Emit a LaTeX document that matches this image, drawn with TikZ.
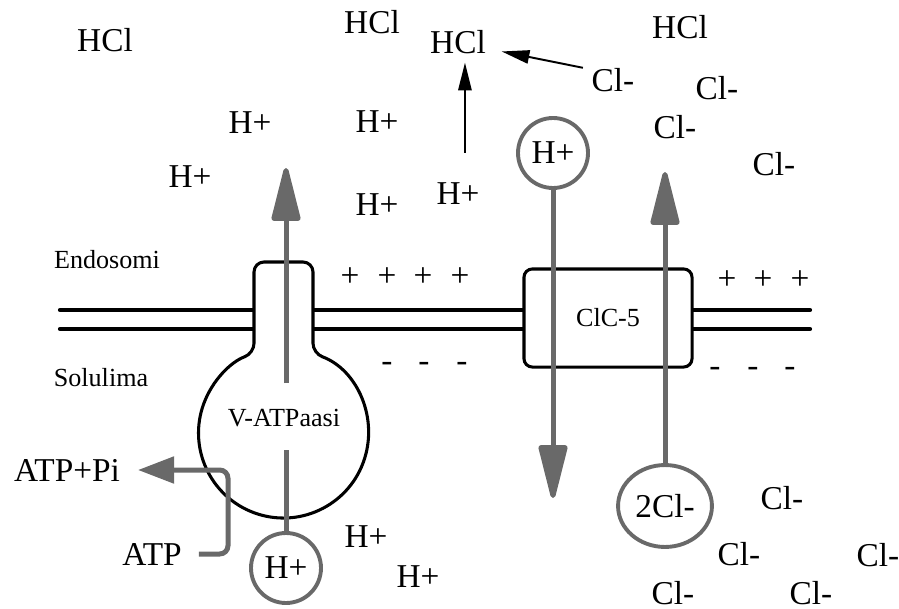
\documentclass[tikz,border=0pt]{standalone}
\usepackage{fontspec}
\setmainfont{Liberation Serif}
\usetikzlibrary{arrows.meta, shapes.geometric}
\definecolor{arrowgray}{RGB}{105,105,105}

\begin{document}
\begin{tikzpicture}[x=0.36pt, y=-0.36pt,
  ion/.style={font=\fontsize{12}{14}\selectfont, inner sep=1pt},
  lab/.style={font=\fontsize{9.4}{11}\selectfont, inner sep=1pt},
  membrane/.style={line width=1.5pt, line cap=round},
  protein/.style={draw, line width=1.1pt, fill=white},
  carrier/.style={draw=arrowgray, line width=1.4pt, fill=white},
  pump/.style={draw=arrowgray, line width=1.8pt, -{Triangle[length=22pt, width=10.5pt, round]}},
  stub/.style={draw=arrowgray, line width=1.8pt},
  reaction/.style={line width=0.7pt, -{Triangle[length=10pt, width=4.8pt]}}]
\useasboundingbox (0,0) rectangle (899,609);

% membrane
\draw[membrane] (60,310) -- (810,310);
\draw[membrane] (60,329) -- (810,329);

% V-ATPase
\draw[protein, rounded corners=3.6pt] (313,353.3)
  arc[start angle=69.7, end angle=-249.7, radius=30.6pt] -- (254,262) -- (313,262) -- cycle;
\node[lab] (vatp) at (284,418) {V-ATPaasi};

% ClC-5
\node[protein, lab, rounded corners=3pt, minimum width=60.5pt, minimum height=35.3pt] (clc) at (608,318) {ClC-5};

\node[lab] (endo) at (107,260) {Endosomi};
\node[lab] (solu) at (101,378) {Solulima};

% charges
\foreach \x in {350,387,423,460} \node[ion] (pa\x) at (\x,277) {+};
\foreach \x in {727,763,800} \node[ion] (pb\x) at (\x,280) {+};
\foreach \x in {387,424,462} \node[ion] (ma\x) at (\x,367) {-};
\foreach \x in {715,753,790} \node[ion] (mb\x) at (\x,372) {-};

% carried ions
\node[carrier, ion, circle, minimum size=25.2pt, inner sep=0pt] (hin) at (553,153) {H+};
\node[carrier, ion, circle, minimum size=25.2pt, inner sep=0pt] (hout) at (286,568) {H+};
\node[carrier, ion, ellipse, minimum width=33.8pt, minimum height=29.5pt, inner sep=0pt] (cl2) at (665,506) {2Cl-};

% gray transport arrows
\coordinate (vtail) at (286,383);
\coordinate (vtip) at (286,168);
\coordinate (vstub) at (286,450);
\coordinate (htip) at (553,498);
\coordinate (cltip) at (665,172);
\draw[pump] (vtail) -- (vtip);
\draw[stub] (vstub) -- (hout.north);
\draw[pump] (hin.south) -- (htip);
\draw[pump] (cl2.north) -- (cltip);

% ATP
\node[ion] (atp) at (152,554) {ATP};
\node[ion] (atppi) at (67,470) {ATP+Pi};
\coordinate (atpturn) at (228,554);
\coordinate (atptip) at (138,470);
\draw[stub, rounded corners=3pt, shorten <=5pt, -{Triangle[length=13pt, width=9.4pt]}] (atp.east) -- (atpturn) |- (atptip);

% endosome lumen
\node[ion] (hcl1) at (105,40) {HCl};
\node[ion] (hcl2) at (372,22) {HCl};
\node[ion] (hcl3) at (458,42) {HCl};
\node[ion] (hcl4) at (680,27) {HCl};
\node[ion] (cl1) at (613,80) {Cl-};
\node[ion] (cl3) at (717,88) {Cl-};
\node[ion] (cl4) at (675,127) {Cl-};
\node[ion] (cl5) at (774,164) {Cl-};
\node[ion] (h1) at (250,123) {H+};
\node[ion] (h2) at (377,122) {H+};
\node[ion] (h3) at (190,177) {H+};
\node[ion] (h4) at (377,205) {H+};
\node[ion] (hfree) at (458,194) {H+};

\draw[reaction, shorten <=9.7pt, shorten >=2pt] ([xshift=2.5pt]hfree.north) -- ([xshift=2.5pt]hcl3.south);
\draw[reaction, shorten <=2pt, shorten >=4.6pt] ([yshift=4pt]cl1.west) -- ([yshift=-2.5pt]hcl3.east);

% cytosol
\node[ion] (h5) at (366,537) {H+};
\node[ion] (h6) at (418,577) {H+};
\node[ion] (cl6) at (782,498) {Cl-};
\node[ion] (cl7) at (739,554) {Cl-};
\node[ion] (cl8) at (878,555) {Cl-};
\node[ion, inner sep=0pt] (cl9) at (673,593) {Cl-};
\node[ion] (cl10) at (811,593) {Cl-};
\end{tikzpicture}
\end{document}
